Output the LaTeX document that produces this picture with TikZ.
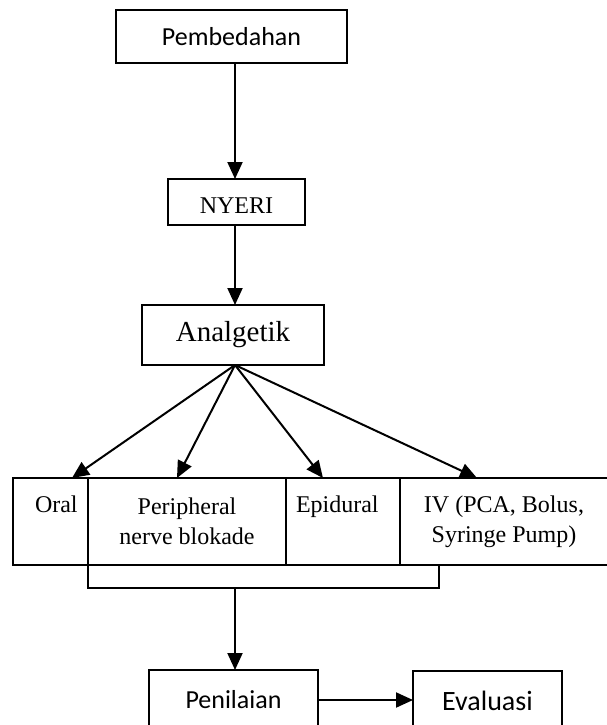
\documentclass[tikz,border=0pt]{standalone}
\usepackage{fontspec}
\setmainfont{Liberation Serif}
\newfontfamily\calibri{Carlito}
\usepackage{tikz}
\usetikzlibrary{arrows.meta,positioning,calc}
\tikzset{
block/.style  = {draw, fill=white, rectangle, inner sep=0pt, outer sep=0pt},
cblock/.style = {block, font=\calibri\fontsize{26}{30}\selectfont},
tblock/.style = {block, font=\fontsize{24}{30}\selectfont, align=center},
txt/.style    = {inner sep=0pt, font=\fontsize{24}{30}\selectfont, anchor=base west},
tmp/.style    = {coordinate}
}

\begin{document}
\begin{tikzpicture}[x=1pt, y=-1pt, line width=2pt, >={Triangle[length=17pt,width=15pt]}]
  \useasboundingbox (0,0) rectangle (607,725);
  \coordinate (spine) at (235,0);

  \node [cblock, minimum width=231pt, minimum height=53pt]                  (pembedahan) at (231.5,36.5) {Pembedahan};
  \node [tblock, minimum width=137pt, minimum height=46pt, text height=22pt] (nyeri)      at (236.5,202)  {NYERI};
  \node [tblock, minimum width=182pt, minimum height=60pt, font=\fontsize{29}{34}\selectfont] (analgetik) at (233,335) {Analgetik};

  \node [block, minimum width=75pt,  minimum height=87pt]                   (oral)       at (50.5,521.5) {};
  \node [tblock, minimum width=198pt, minimum height=87pt]                  (perifer)    at (187,521.5)  {Peripheral\\nerve blokade};
  \node [block, minimum width=114pt, minimum height=87pt]                   (epidural)   at (343,521.5)  {};
  \node [tblock, minimum width=208pt, minimum height=87pt]                  (iv)         at (504,521.5)  {IV (PCA, Bolus,\\Syringe Pump)};
  \node [txt]                                                               (oraltxt)    at (34,512)     {Oral};
  \node [txt]                                                               (epitxt)     at (295,512)    {Epidural};

  \node [cblock, minimum width=169pt, minimum height=60pt]                  (penilaian)  at (233.5,700)  {Penilaian};
  \node [cblock, minimum width=149pt, minimum height=59pt, font=\calibri\fontsize{28}{32}\selectfont] (evaluasi) at (487.5,700.5) {Evaluasi};

  \coordinate (tmp1) at (analgetik.south -| spine);
  \coordinate (tmp2) at ([yshift=-23pt]oral.south east);

  \draw [->] (pembedahan.south -| spine) -- (nyeri.north -| spine);
  \draw [->] (nyeri.south -| spine) -- (analgetik.north -| spine);
  \draw [->] (tmp1) -- ([xshift=21.5pt]oral.north);
  \draw [->] (tmp1) -- ([xshift=-10pt]perifer.north);
  \draw [->] (tmp1) -- ([xshift=-20pt]epidural.north);
  \draw [->] (tmp1) -- ([xshift=-27pt]iv.north);
  \draw (oral.south east) -- (tmp2) -| ([xshift=-65pt]iv.south);
  \draw [->] (tmp2 -| spine) -- (penilaian.north -| spine);
  \draw [->] (penilaian.east) -- (penilaian.east -| evaluasi.west);
\end{tikzpicture}
\end{document}
